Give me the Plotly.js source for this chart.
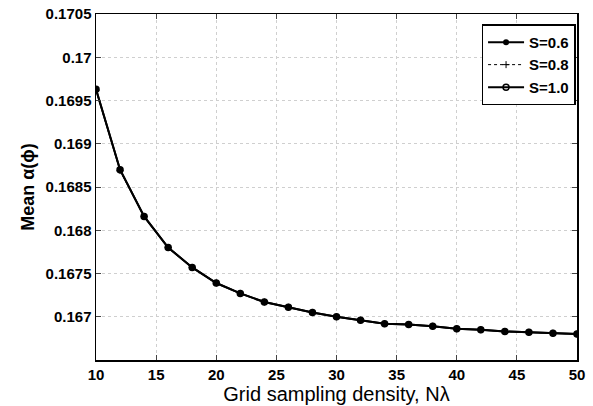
<!DOCTYPE html>
<html><head><meta charset="utf-8">
<script src="https://cdn.plot.ly/plotly-3.0.1.min.js"></script>
<style>body{margin:0;background:#fff}#c{width:593px;height:406px}</style>
</head><body><div id="c"></div>
<script>
const density = [10,12,14,16,18,20,22,24,26,28,30,32,34,36,38,40,42,44,46,48,50];
const s06 = [0.16963,0.16870,0.16816,0.16780,0.16757,0.16739,0.16727,0.16717,0.16711,0.16705,0.16700,0.16696,0.16692,0.16691,0.16689,0.16686,0.16685,0.16683,0.16682,0.16681,0.16680];
const s08 = [0.16962,0.16869,0.16816,0.16780,0.16757,0.16739,0.16727,0.16717,0.16711,0.16705,0.16700,0.16696,0.16692,0.16691,0.16689,0.16686,0.16685,0.16683,0.16682,0.16681,0.16680];
const s10 = [0.16963,0.16870,0.16816,0.16780,0.16757,0.16739,0.16727,0.16717,0.16711,0.16705,0.16700,0.16696,0.16692,0.16691,0.16689,0.16686,0.16685,0.16683,0.16682,0.16681,0.16680];
const xTicks = [10,15,20,25,30,35,40,45,50];
const yTicks = [0.167,0.1675,0.168,0.1685,0.169,0.1695,0.17,0.1705];
const yTickText = ['0.167','0.1675','0.168','0.1685','0.169','0.1695','0.17','0.1705'];

const traces = [
 {x:density,y:s06,name:'S=0.6',mode:'lines+markers',line:{color:'#000',width:2},marker:{symbol:'circle',size:6,color:'#000'}},
 {x:density,y:s08,name:'S=0.8',mode:'lines+markers',line:{color:'#000',width:1,dash:'dot'},marker:{symbol:'cross-thin',size:5,line:{color:'#000',width:1}}},
 {x:density,y:s10,name:'S=1.0',mode:'lines+markers',line:{color:'#000',width:2},marker:{symbol:'circle-open',size:6,color:'#000',line:{width:1.5}}}
];
const tf = {family:'Liberation Sans, Arial, sans-serif',size:15,color:'#000',weight:'bold'};
const layout = {
 width:593,height:406,margin:{l:96,r:16,t:14,b:46},
 paper_bgcolor:'#fff',plot_bgcolor:'#fff',showlegend:true,
 xaxis:{range:[10,50],tickvals:xTicks,ticks:'inside',ticklen:5,mirror:'ticks',showline:true,linecolor:'#000',linewidth:1.5,
   showgrid:true,gridcolor:'#cfcfcf',griddash:'dot',gridwidth:1,zeroline:false,tickfont:tf,
   title:{text:'Grid sampling density, Nλ',font:{family:'Liberation Sans, Arial, sans-serif',size:20,color:'#000'},standoff:0}},
 yaxis:{range:[0.1665,0.1705],tickvals:yTicks,ticktext:yTickText,ticks:'inside',ticklen:5,mirror:'ticks',showline:true,linecolor:'#000',linewidth:1.5,
   showgrid:true,gridcolor:'#cfcfcf',griddash:'dot',gridwidth:1,zeroline:false,tickfont:tf,
   title:{text:'Mean α(ϕ)',font:{family:'Liberation Sans, Arial, sans-serif',size:18,color:'#000',weight:'bold'},standoff:6}},
 legend:{x:0.997,y:0.97,xanchor:'right',yanchor:'top',bgcolor:'#fff',bordercolor:'#000',borderwidth:1.5,
   font:{family:'Liberation Sans, Arial, sans-serif',size:15,color:'#000',weight:'bold'},tracegroupgap:0,itemwidth:36}
};
Plotly.newPlot('c',traces,layout,{displayModeBar:false,staticPlot:true});
</script></body></html>
